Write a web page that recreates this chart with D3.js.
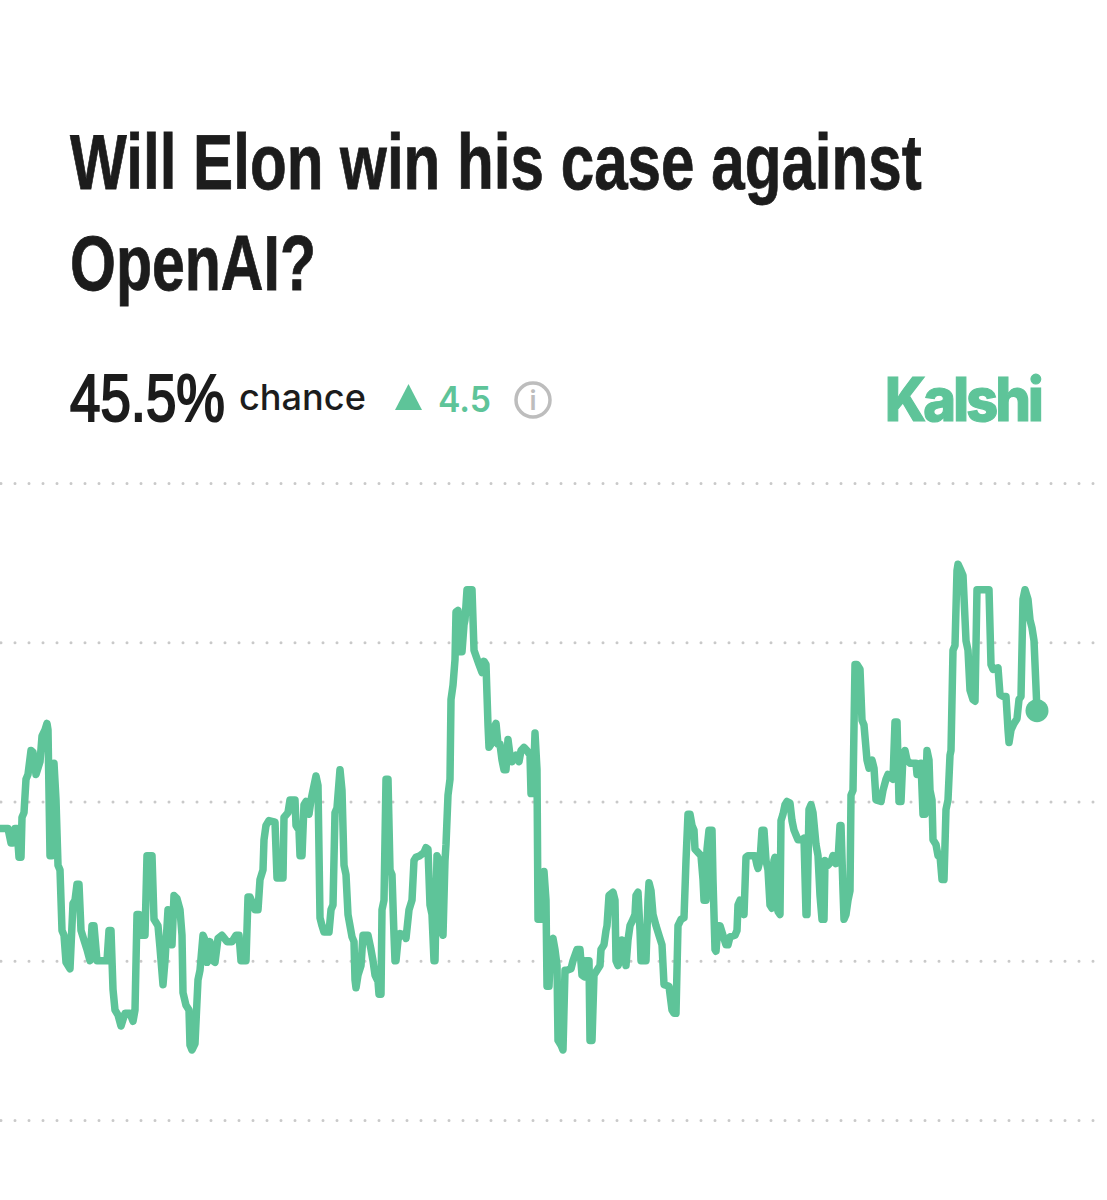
<!DOCTYPE html>
<html>
<head>
<meta charset="utf-8">
<script src="https://cdn.jsdelivr.net/npm/d3@7"></script>
<style>
  body { margin: 0; background: #fff; }
  svg { display: block; }
</style>
</head>
<body>
<svg width="1107" height="1200"></svg>
<script>
// values
const titleLines = ["Will Elon win his case against", "OpenAI?"];
const gridValues = [60, 50, 40, 30, 20];

const hours = [
  0,8,11,13,15,17,19,21,22,24,26,28,31,33,36,40,42,45,47,48,
  50,52,54,56,58,60,62,64,66,70,73,75,77,79,81,84,87,90,92,94,
  97,107,109,111,113,115,118,121,123,125,130,133,135,137,139,141,145,147,152,154,
  158,160,163,165,168,172,174,177,180,182,183,186,189,190,192,195,198,200,203,205,
  207,210,213,215,218,222,227,232,236,239,241,246,248,250,255,258,260,263,264,266,
  269,275,277,283,284,288,290,295,296,299,300,302,304,306,309,311,314,316,318,320,
  322,324,329,331,333,335,337,340,342,344,346,348,350,352,354,355,356,358,361,363,
  368,371,373,375,378,379,381,382,384,386,388,390,392,394,395,396,398,400,405,406,
  409,412,414,416,420,424,426,428,430,432,434,435,437,439,441,443,445,446,448,450,
  451,453,455,456,458,460,462,464,465,467,472,474,479,482,484,486,488,489,491,493,
  496,498,500,502,504,506,508,510,512,516,519,521,524,527,530,531,533,535,537,538,
  541,544,546,547,549,551,553,555,557,558,561,563,565,567,571,573,577,580,582,584,
  586,589,590,592,594,597,600,601,604,606,607,609,613,615,616,618,620,622,624,626,
  628,630,633,635,636,638,640,641,646,648,649,651,653,656,659,662,664,669,672,674,
  676,678,681,684,686,688,690,692,694,695,701,703,704,706,707,709,712,713,715,716,
  718,720,723,726,728,730,735,737,738,740,742,744,746,748,755,757,758,760,762,764,
  766,768,770,772,774,775,776,778,780,781,783,785,787,790,792,794,796,798,802,804,
  806,807,809,811,813,816,818,820,822,824,825,828,831,833,836,838,840,841,843,844,
  846,848,850,851,853,855,857,860,862,864,867,869,872,874,876,881,883,886,888,891,
  893,895,897,899,901,903,905,907,910,916,917,920,921,923,925,927,929,930,932,933,
  936,938,940,942,944,946,948,950,951,953,955,957,958,961,963,966,968,970,973,975,
  977,989,991,993,998,1000,1003,1006,1008,1009,1011,1014,1017,1019,1021,1023,1025,1028,1030,1032,
  1034,1037
];

const chance = [
  38.3,38.3,37.4,37.4,38.3,38.3,36.5,36.5,39.0,39.3,41.4,41.7,43.2,43.1,41.7,42.5,44.1,44.5,44.9,44.5,
  36.6,36.6,42.4,40.1,36.0,35.7,31.9,31.6,29.9,29.5,33.6,33.8,34.8,34.8,31.9,31.3,30.7,30.0,32.2,32.2,
  30.0,30.0,31.9,31.9,28.2,26.9,26.6,25.9,26.3,26.7,26.7,26.2,26.9,32.9,32.9,31.6,31.6,36.6,36.6,32.6,
  32.2,30.8,28.5,30.0,33.2,31.0,34.1,33.9,33.2,31.6,28.0,27.2,26.9,24.7,24.4,24.8,28.8,29.4,31.6,31.3,
  29.9,31.2,30.0,29.9,31.4,31.6,31.2,31.2,31.6,31.6,30.0,30.0,34.0,34.0,33.2,33.2,35.1,35.7,37.6,38.5,
  38.8,38.7,35.2,35.2,39.0,39.3,40.1,40.1,38.5,38.2,36.6,36.6,39.8,40.0,39.2,40.1,41.0,41.6,41.0,32.7,
  32.2,31.8,31.8,33.2,33.5,39.3,39.6,42.0,40.7,36.0,35.4,32.9,32.2,31.5,31.2,28.8,28.3,29.1,29.7,31.6,
  31.6,30.7,30.0,29.1,28.7,27.9,27.9,33.2,33.8,41.4,41.4,35.7,35.4,31.6,30.0,30.0,31.3,31.7,31.6,31.4,
  33.2,33.8,36.3,36.5,36.6,36.8,37.1,37.0,33.5,32.9,30.0,30.0,36.6,36.3,32.2,31.6,36.3,37.3,40.4,41.4,
  46.4,47.3,48.9,51.9,52.0,49.4,49.4,51.1,51.4,53.3,53.3,49.5,48.6,48.1,48.8,48.6,44.8,43.4,43.6,44.5,
  44.9,43.6,43.6,42.6,42.0,42.0,43.9,42.9,42.5,42.9,42.5,43.2,43.4,43.2,42.9,40.5,40.5,44.3,42.0,32.6,
  32.6,35.6,33.8,28.4,28.4,31.3,31.4,30.7,29.7,25.0,24.7,24.4,29.4,29.4,29.5,30.0,30.7,30.7,29.1,29.0,
  30.0,30.0,25.0,25.0,29.1,29.4,29.7,30.7,31.0,31.9,32.2,34.1,34.3,33.8,30.0,29.7,30.0,31.3,31.0,29.7,
  31.3,32.2,32.6,32.9,34.1,34.3,31.9,30.0,30.0,33.8,34.9,34.4,32.9,32.2,31.6,31.0,28.5,28.4,26.9,26.7,
  26.7,32.2,32.6,32.7,36.3,39.2,39.2,38.5,38.2,37.0,36.6,35.1,33.8,33.8,37.0,38.2,38.2,35.1,30.7,30.6,
  32.2,32.2,31.6,31.0,31.0,31.5,31.6,31.9,33.5,33.8,33.2,32.9,36.5,36.6,36.6,36.0,35.8,36.3,38.2,38.2,
  36.3,35.7,33.5,33.3,36.3,36.5,35.1,33.1,32.9,38.8,39.2,39.8,40.0,39.9,38.8,38.2,37.9,37.6,37.6,37.7,
  32.9,32.9,39.5,39.8,39.3,37.3,36.6,34.1,32.6,32.6,36.3,36.0,36.2,36.6,36.1,36.3,38.5,38.5,34.4,32.6,
  32.9,33.8,34.4,40.4,40.7,48.6,48.6,48.3,45.1,44.8,42.6,42.1,42.6,42.1,40.1,40.0,40.7,41.4,41.7,41.5,
  41.4,45.0,45.0,40.0,40.0,42.9,43.2,42.6,42.4,42.4,41.7,41.7,42.4,39.2,39.2,43.2,42.6,40.7,40.1,37.6,
  37.3,36.6,36.6,35.1,35.1,39.5,40.1,42.9,43.2,49.5,49.8,54.5,54.9,54.5,54.2,50.1,49.5,47.0,46.4,46.3,
  53.3,53.3,48.6,48.3,48.4,46.7,46.6,46.6,44.5,43.7,44.5,44.9,45.2,46.4,46.6,52.7,53.3,52.7,51.4,50.9,
  50.1,45.7
];

const green = "#5ec499";
const ink = "#1c1c1c";

const svg = d3.select("svg");

const x = d3.scaleLinear().domain([0, 1037]).range([0, 1037]);
const y = d3.scaleLinear().domain([20, 60]).range([1120, 483]);

// squeeze a text sideways to the width it has in the picture
function fitted(str, px, py, w, family, weight, size, fill, thick, spacing) {
  const t = svg.append("text")
    .attr("font-family", family)
    .attr("font-weight", weight)
    .attr("font-size", size)
    .attr("fill", fill)
    .text(str);
  if (thick) t.attr("stroke", fill).attr("stroke-width", thick);
  if (spacing) t.attr("letter-spacing", spacing);
  const k = w / t.node().getComputedTextLength();
  t.attr("transform", `translate(${px},${py}) scale(${k},1)`);
  return t;
}

// title
fitted(titleLines[0], 70, 189, 852, "'Liberation Sans', sans-serif", 700, 78, ink, 0.8);
fitted(titleLines[1], 70, 290, 246, "'Liberation Sans', sans-serif", 700, 78, ink, 0.8);

// header row
fitted("45.5%", 70, 421, 155, "'Liberation Sans', sans-serif", 400, 66, ink, 2.2);
fitted("chance", 239, 410, 127, "Inter, sans-serif", 500, 36, ink);

svg.append("path")
  .attr("d", d3.line()([[395, 410], [422, 410], [408.5, 384]]) + "Z")
  .attr("fill", green);

fitted("4.5", 438, 412, 53, "Inter, sans-serif", 600, 35, green);

svg.append("circle").attr("cx", 533).attr("cy", 400).attr("r", 17)
  .attr("fill", "none").attr("stroke", "#bdbdbd").attr("stroke-width", 3.5);
svg.append("text").attr("x", 533).attr("y", 410)
  .attr("text-anchor", "middle")
  .attr("font-family", "Inter, sans-serif")
  .attr("font-weight", 600)
  .attr("font-size", 27).attr("fill", "#bdbdbd")
  .text("i");

fitted("Kalshi", 885, 421, 156, "Inter, sans-serif", 800, 60, green, 1.2, -3);

// dotted grid, unlabeled
const grid = svg.append("g")
  .call(d3.axisLeft(y).tickValues(gridValues).tickSize(-1107).tickFormat(""));
grid.select(".domain").remove();
grid.selectAll(".tick line")
  .attr("stroke", "#c9c9c9")
  .attr("stroke-width", 3)
  .attr("stroke-linecap", "round")
  .attr("stroke-dasharray", "0 14")
  .attr("stroke-dashoffset", -1);

const line = d3.line()
  .x(d => x(d[0]))
  .y(d => y(d[1]));

const pts = d3.zip(hours, chance);

svg.append("path")
  .datum(pts)
  .attr("d", line)
  .attr("fill", "none")
  .attr("stroke", green)
  .attr("stroke-width", 7.5)
  .attr("stroke-linejoin", "round")
  .attr("stroke-linecap", "round");

svg.append("circle")
  .attr("cx", x(hours[hours.length - 1]))
  .attr("cy", y(chance[chance.length - 1]))
  .attr("r", 11.5)
  .attr("fill", green);
</script>
</body>
</html>
